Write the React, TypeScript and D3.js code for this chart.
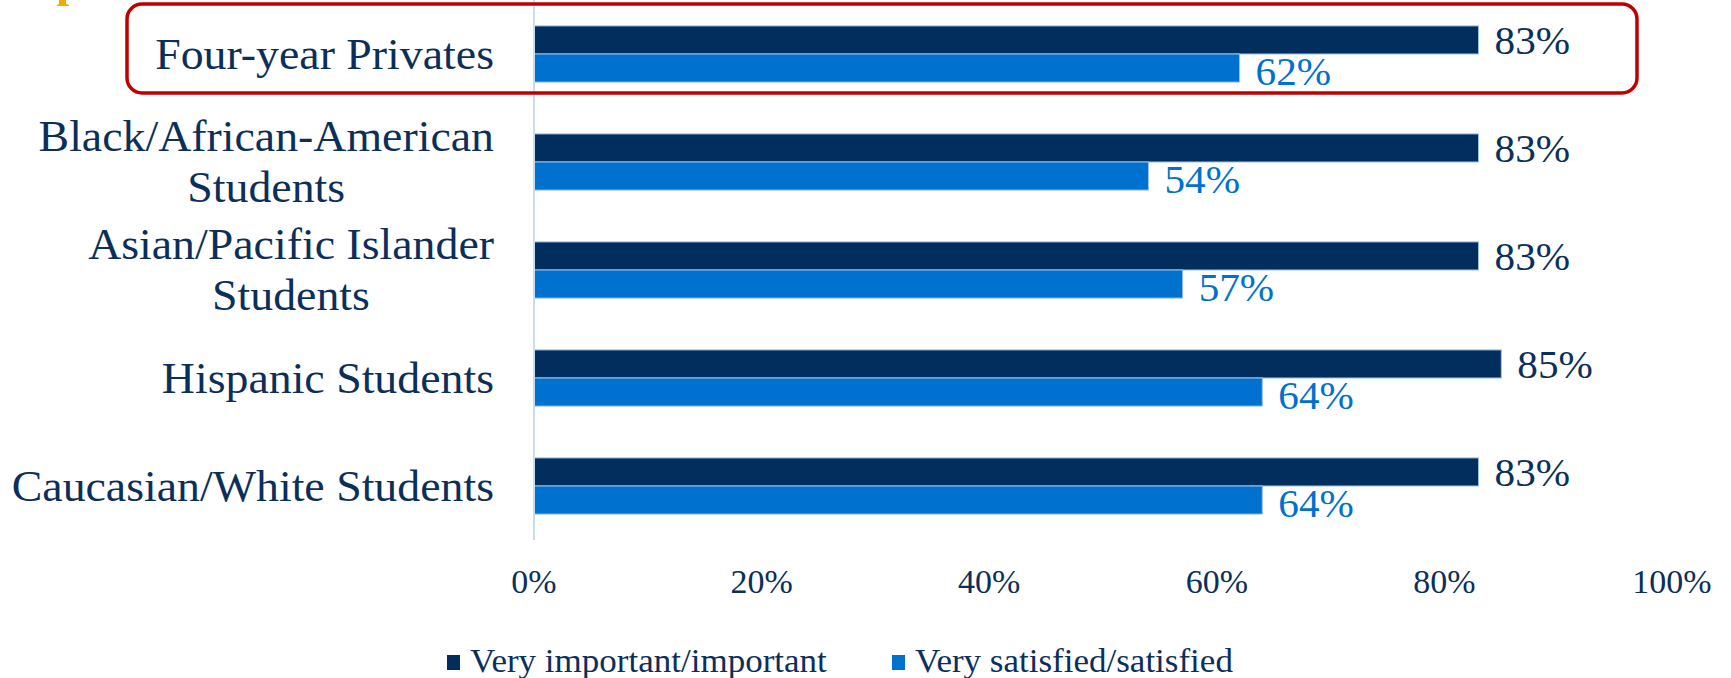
import React from "react";
import * as d3 from "d3";

const categories: string[][] = [
  ["Four-year Privates"],
  ["Black/African-American", "Students"],
  ["Asian/Pacific Islander", "Students"],
  ["Hispanic Students"],
  ["Caucasian/White Students"],
];
const categoryKeys = categories.map((c) => c.join(" "));
const importantValues = [83, 83, 83, 85, 83];
const satisfiedValues = [62, 54, 57, 64, 64];
const seriesNames = ["Very important/important", "Very satisfied/satisfied"];
const tickValues = [0, 20, 40, 60, 80, 100];

const W = 1731;
const H = 678;
const DARK = "#022E5E";
const LIGHT = "#0071CE";
const TEXT = "#0C2F5A";
const FONT = "'Liberation Serif', 'DejaVu Serif', serif";
const CAT_SIZE = 44.5;
const SX = 1.03;

function measure(text: string, size: number): number {
  const c = document.createElement("canvas").getContext("2d");
  if (!c) return text.length * size * 0.45;
  c.font = `${size}px 'Liberation Serif'`;
  return c.measureText(text).width;
}

function SText(props: {
  x: number;
  y: number;
  size: number;
  anchor?: "start" | "middle" | "end";
  fill: string;
  children: string;
}) {
  return (
    <g transform={`translate(${props.x},${props.y}) scale(${SX},1)`}>
      <text x={0} y={0} textAnchor={props.anchor ?? "start"} fontSize={props.size} fill={props.fill}>
        {props.children}
      </text>
    </g>
  );
}

export default function App() {
  const x = d3.scaleLinear().domain([0, 100]).range([534, 1672]);
  const y = d3
    .scaleBand<string>()
    .domain(categoryKeys)
    .range([0, 540])
    .paddingInner(0.48)
    .paddingOuter(0.24);
  const sub = d3.scaleBand<string>().domain(seriesNames).range([0, y.bandwidth()]);
  const labelRight = 494;

  return (
    <svg
      width={W}
      height={H}
      style={{ position: "absolute", left: 0, top: 0, background: "#fff" }}
      fontFamily={FONT}
    >
      <rect x={0} y={0} width={W} height={H} fill="#fff" />
      {/* clipped yellow glyph remnant at top-left */}
      <path d="M59,0 L66,0 L66,4 L69,5 L69,6 L57,6 L57,5 L59,4 Z" fill="#F2AA00" />

      {/* category labels */}
      {categories.map((lines, i) => {
        const key = categoryKeys[i];
        const cy = (y(key) ?? 0) + y.bandwidth() / 2;
        if (lines.length === 1) {
          return (
            <SText key={key} x={labelRight} y={cy + 15} anchor="end" size={CAT_SIZE} fill={TEXT}>
              {lines[0]}
            </SText>
          );
        }
        const w1 = measure(lines[0], CAT_SIZE) * SX;
        const mid = labelRight - w1 / 2;
        return (
          <g key={key}>
            <SText x={labelRight} y={cy - 11} anchor="end" size={CAT_SIZE} fill={TEXT}>
              {lines[0]}
            </SText>
            <SText x={mid} y={cy + 40} anchor="middle" size={CAT_SIZE} fill={TEXT}>
              {lines[1]}
            </SText>
          </g>
        );
      })}

      {/* bars */}
      {categoryKeys.map((key, i) => {
        const y0 = y(key) ?? 0;
        const vals = [importantValues[i], satisfiedValues[i]];
        return (
          <g key={key}>
            {seriesNames.map((s, j) => {
              const by = y0 + (sub(s) ?? 0);
              const bh = sub.bandwidth();
              const v = vals[j];
              return (
                <g key={s}>
                  <rect
                    x={x(0)}
                    y={by}
                    width={x(v) - x(0)}
                    height={bh}
                    fill={j === 0 ? DARK : LIGHT}
                    stroke="#9CC3EA"
                    strokeWidth={1}
                  />
                  <SText
                    x={x(v) + 16}
                    y={by + bh / 2 + (j === 0 ? 14 : 17)}
                    size={40}
                    fill={j === 0 ? TEXT : LIGHT}
                  >
                    {`${v}%`}
                  </SText>
                </g>
              );
            })}
          </g>
        );
      })}

      {/* axis line */}
      <line x1={x(0)} x2={x(0)} y1={0} y2={540} stroke="#C5DCF3" strokeWidth={2} />

      {/* tick labels */}
      {tickValues.map((t) => (
        <SText key={t} x={x(t)} y={593} anchor="middle" size={33} fill={TEXT}>
          {`${t}%`}
        </SText>
      ))}

      {/* red highlight box */}
      <rect
        x={127}
        y={4}
        width={1510}
        height={89}
        rx={15}
        ry={15}
        fill="none"
        stroke="#C00000"
        strokeWidth={3.5}
      />

      {/* legend */}
      {seriesNames.map((s, j) => {
        const lx = j === 0 ? 447 : 892;
        return (
          <g key={s}>
            <rect x={lx} y={655} width={13} height={15} fill={j === 0 ? DARK : LIGHT} />
            <SText x={lx + 23} y={672} size={34} fill={TEXT}>
              {s}
            </SText>
          </g>
        );
      })}
    </svg>
  );
}
